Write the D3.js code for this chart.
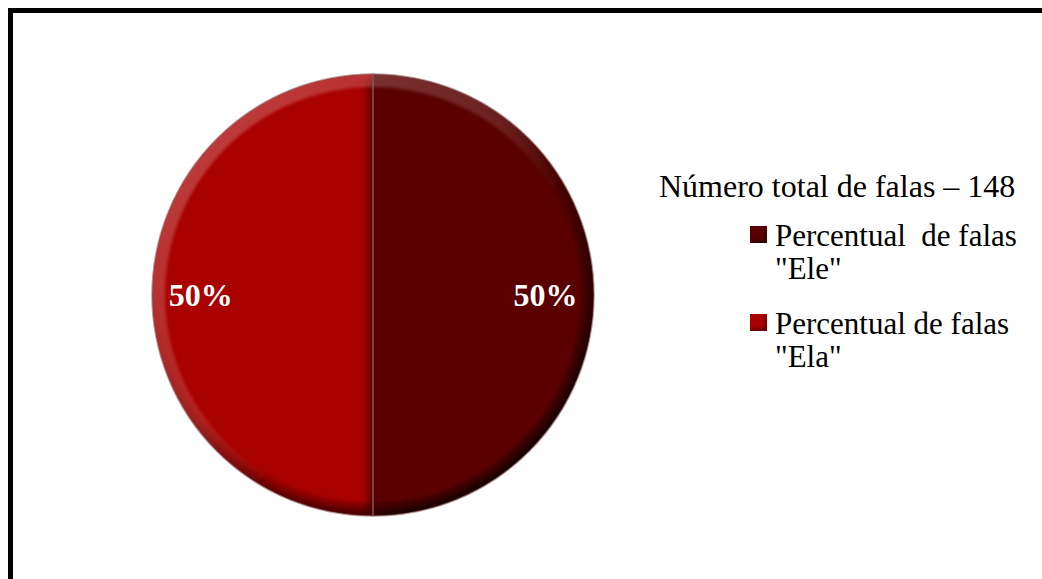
<!DOCTYPE html>
<html lang="pt">
<head>
<meta charset="UTF-8">
<title>Número total de falas</title>
<script src="https://d3js.org/d3.v7.min.js"></script>
<style>
  body { margin: 0; background: #fff; }
  text { font-family: "Liberation Serif", "Times New Roman", serif; white-space: pre; }
</style>
</head>
<body>
<div id="chart"></div>
<script>
// data
var labelLines = [['Percentual  de falas', '"Ele"'], ['Percentual de falas', '"Ela"']];
var values = [74, 74];
var colors = ["#5a0505", "#a90606"];
var legendTitle = "Número total de falas – 148";

var width = 1042, height = 579;
var cx = 373, cy = 295, r = 221;

var svg = d3.select("#chart").append("svg")
  .attr("width", width)
  .attr("height", height);

// frame (only top and left edges fall inside the picture)
svg.append("rect")
  .attr("x", 10.5).attr("y", 10.5)
  .attr("width", 1100).attr("height", 700)
  .attr("fill", "none")
  .attr("stroke", "#000")
  .attr("stroke-width", 5);

var defs = svg.append("defs");
function bevel(id, blur, scale) {
  var f = defs.append("filter").attr("id", id)
    .attr("x", "-5%").attr("y", "-5%").attr("width", "110%").attr("height", "110%");
  f.append("feGaussianBlur").attr("in", "SourceAlpha").attr("stdDeviation", blur).attr("result", "blur");
  f.append("feDiffuseLighting").attr("in", "blur").attr("surfaceScale", scale)
    .attr("diffuseConstant", 1.18).attr("lighting-color", "#fff").attr("result", "light")
    .append("feDistantLight").attr("azimuth", 235).attr("elevation", 58);
  f.append("feComposite").attr("in", "SourceGraphic").attr("in2", "light")
    .attr("operator", "arithmetic").attr("k1", 1).attr("k2", 0).attr("k3", 0).attr("k4", 0)
    .attr("result", "lit");
  f.append("feComposite").attr("in", "lit").attr("in2", "SourceAlpha").attr("operator", "in");
}
bevel("bevel", 6, 9);
bevel("bevelSmall", 2, 3);

// rim shading: light towards top-left, dark towards bottom-right
var rim = defs.append("linearGradient").attr("id", "rim")
  .attr("x1", "0%").attr("y1", "0%").attr("x2", "100%").attr("y2", "100%");
rim.append("stop").attr("offset", "0%").attr("stop-color", "#fff").attr("stop-opacity", 0.28);
rim.append("stop").attr("offset", "45%").attr("stop-color", "#fff").attr("stop-opacity", 0.12);
rim.append("stop").attr("offset", "60%").attr("stop-color", "#000").attr("stop-opacity", 0.1);
rim.append("stop").attr("offset", "100%").attr("stop-color", "#000").attr("stop-opacity", 0.4);
defs.append("filter").attr("id", "soft").append("feGaussianBlur").attr("stdDeviation", 1.5);

var pie = d3.pie().sort(null).value(d => d);
var arc = d3.arc().innerRadius(0).outerRadius(r);
var arcs = pie(values);

var g = svg.append("g").attr("transform", "translate(" + cx + "," + cy + ")");

g.selectAll("path.slice")
  .data(arcs)
  .join("path")
  .attr("class", "slice")
  .attr("d", arc)
  .attr("fill", (d, i) => colors[i])
  .attr("filter", "url(#bevel)");

var clip = defs.append("clipPath").attr("id", "pieclip");
clip.append("circle").attr("r", r);

g.append("path")
  .attr("d", d3.arc().innerRadius(r - 13).outerRadius(r + 2).startAngle(0).endAngle(2 * Math.PI)())
  .attr("fill", "url(#rim)")
  .attr("clip-path", "url(#pieclip)")
  .attr("filter", "url(#soft)");

// thin separator between slices
g.selectAll("path.sep")
  .data(arcs)
  .join("path")
  .attr("class", "sep")
  .attr("d", arc)
  .attr("fill", "none")
  .attr("stroke", "#8a5c5c")
  .attr("stroke-width", 1.5)
  .attr("stroke-opacity", 0.6);

var labelArc = d3.arc().innerRadius(r * 0.78).outerRadius(r * 0.78);
var total = d3.sum(values);
g.selectAll("text.pct")
  .data(arcs)
  .join("text")
  .attr("class", "pct")
  .attr("x", d => labelArc.centroid(d)[0])
  .attr("y", d => labelArc.centroid(d)[1] + 11)
  .attr("text-anchor", "middle")
  .attr("fill", "#fff")
  .attr("font-weight", "bold")
  .attr("font-size", 32)
  .text(d => Math.round(d.value / total * 100) + "%");

// legend
var lg = svg.append("g");
lg.append("text")
  .attr("x", 659).attr("y", 197)
  .attr("font-size", 32)
  .text(legendTitle);

var items = lg.selectAll("g.item")
  .data(labelLines)
  .join("g")
  .attr("class", "item")
  .attr("transform", (d, i) => "translate(750," + (226 + i * 88) + ")");

items.append("rect")
  .attr("width", 17).attr("height", 17)
  .attr("fill", (d, i) => colors[i])
  .attr("filter", "url(#bevelSmall)");

items.append("text")
  .attr("x", 25).attr("y", 20)
  .attr("font-size", 31)
  .selectAll("tspan")
  .data(d => d)
  .join("tspan")
  .attr("x", 25)
  .attr("dy", (d, i) => i ? 33 : 0)
  .text(d => d);
</script>
</body>
</html>
